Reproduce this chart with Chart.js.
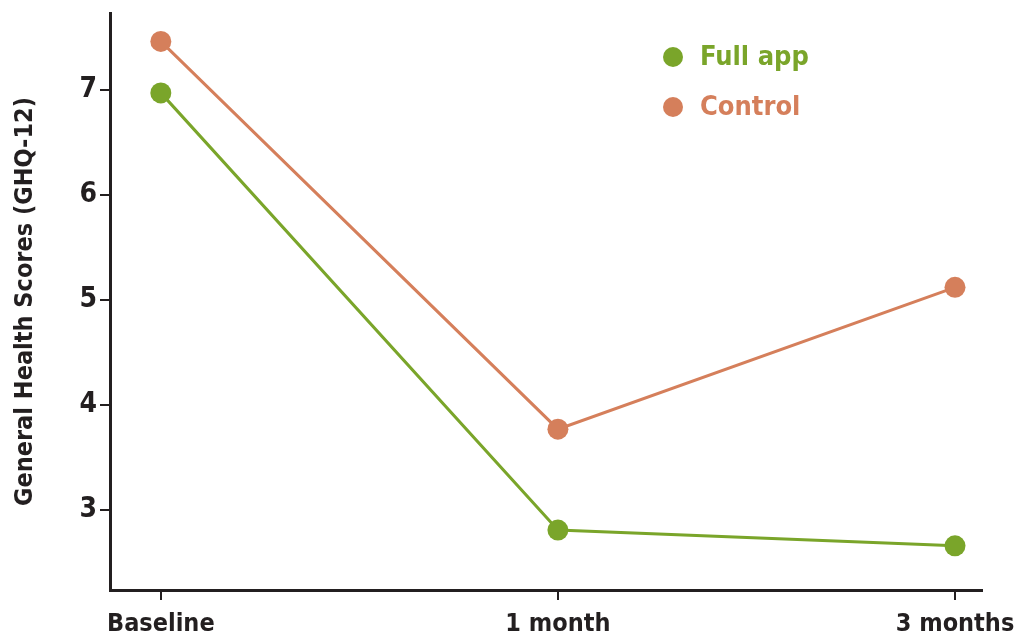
<!DOCTYPE html>
<html>
<head>
<meta charset="utf-8">
<script src="https://cdn.jsdelivr.net/npm/chart.js@4"></script>
<style>
  html, body { margin: 0; padding: 0; background: #fff; }
  #wrap { width: 1014px; height: 641px; }
</style>
</head>
<body>
<div id="wrap"><canvas id="c"></canvas></div>
<script>
const categories = ['Baseline', '1 month', '3 months'];
const fullApp = [6.97, 2.81, 2.66];
const control = [7.46, 3.77, 5.12];
const yTicks = [3, 4, 5, 6, 7];

const FONT = '"Liberation Sans Narrow", "DejaVu Sans Condensed", "Roboto Condensed", sans-serif';
const GREEN = '#7aa52a';
const ORANGE = '#d57f5b';
const INK = '#231f20';

const toPoints = vals => vals.map((v, i) => ({ x: i, y: v }));

// legend drawn inside the plot, top right
const insideLegend = {
  id: 'insideLegend',
  afterDraw(chart) {
    const ctx = chart.ctx;
    ctx.save();
    chart.data.datasets.forEach((ds, i) => {
      const y = 57 + i * 50;
      ctx.fillStyle = ds.borderColor;
      ctx.beginPath();
      ctx.arc(673, y, 10, 0, Math.PI * 2);
      ctx.fill();
      ctx.font = 'bold 27px ' + FONT;
      ctx.textBaseline = 'middle';
      ctx.fillText(ds.label, 700, y + 1);
    });
    ctx.restore();
  }
};

const config = {
  type: 'line',
  data: {
    datasets: [
      {
        label: 'Full app',
        data: toPoints(fullApp),
        borderColor: GREEN,
        backgroundColor: GREEN,
        borderWidth: 3,
        pointRadius: 10.5,
        pointHoverRadius: 10.5,
        pointBorderWidth: 0
      },
      {
        label: 'Control',
        data: toPoints(control),
        borderColor: ORANGE,
        backgroundColor: ORANGE,
        borderWidth: 3,
        pointRadius: 10.5,
        pointHoverRadius: 10.5,
        pointBorderWidth: 0
      }
    ]
  },
  options: {
    responsive: true,
    maintainAspectRatio: false,
    animation: false,
    layout: { padding: { top: 13, right: 32, left: 0, bottom: 0 } },
    plugins: {
      legend: { display: false },
      tooltip: { enabled: false }
    },
    scales: {
      x: {
        type: 'linear',
        min: -0.128,
        max: 2.068,
        afterBuildTicks: s => { s.ticks = categories.map((c, i) => ({ value: i })); },
        afterFit: s => { s.height = 51; s.paddingLeft = 0; s.paddingRight = 0; },
        border: { display: true, color: INK, width: 3 },
        grid: { drawOnChartArea: false, drawTicks: true, tickLength: 10, tickColor: INK, lineWidth: 2 },
        ticks: {
          color: INK,
          padding: 9,
          maxRotation: 0,
          font: { family: FONT, size: 25, weight: 'bold' },
          callback: v => categories[v]
        }
      },
      y: {
        min: 2.24,
        max: 7.73,
        afterBuildTicks: s => { s.ticks = yTicks.map(v => ({ value: v })); },
        afterFit: s => { s.width = 110; s.paddingTop = 0; s.paddingBottom = 0; },
        border: { display: true, color: INK, width: 3 },
        grid: { drawOnChartArea: false, drawTicks: true, tickLength: 10, tickColor: INK, lineWidth: 2 },
        ticks: {
          color: INK,
          padding: 3,
          font: { family: FONT, size: 28, weight: 'bold' }
        },
        title: {
          display: true,
          text: 'General Health Scores (GHQ-12)',
          color: INK,
          padding: { top: 10, bottom: 0 },
          font: { family: FONT, size: 25, weight: 'bold' }
        }
      }
    }
  },
  plugins: [insideLegend]
};

new Chart(document.getElementById('c'), config);
</script>
</body>
</html>
